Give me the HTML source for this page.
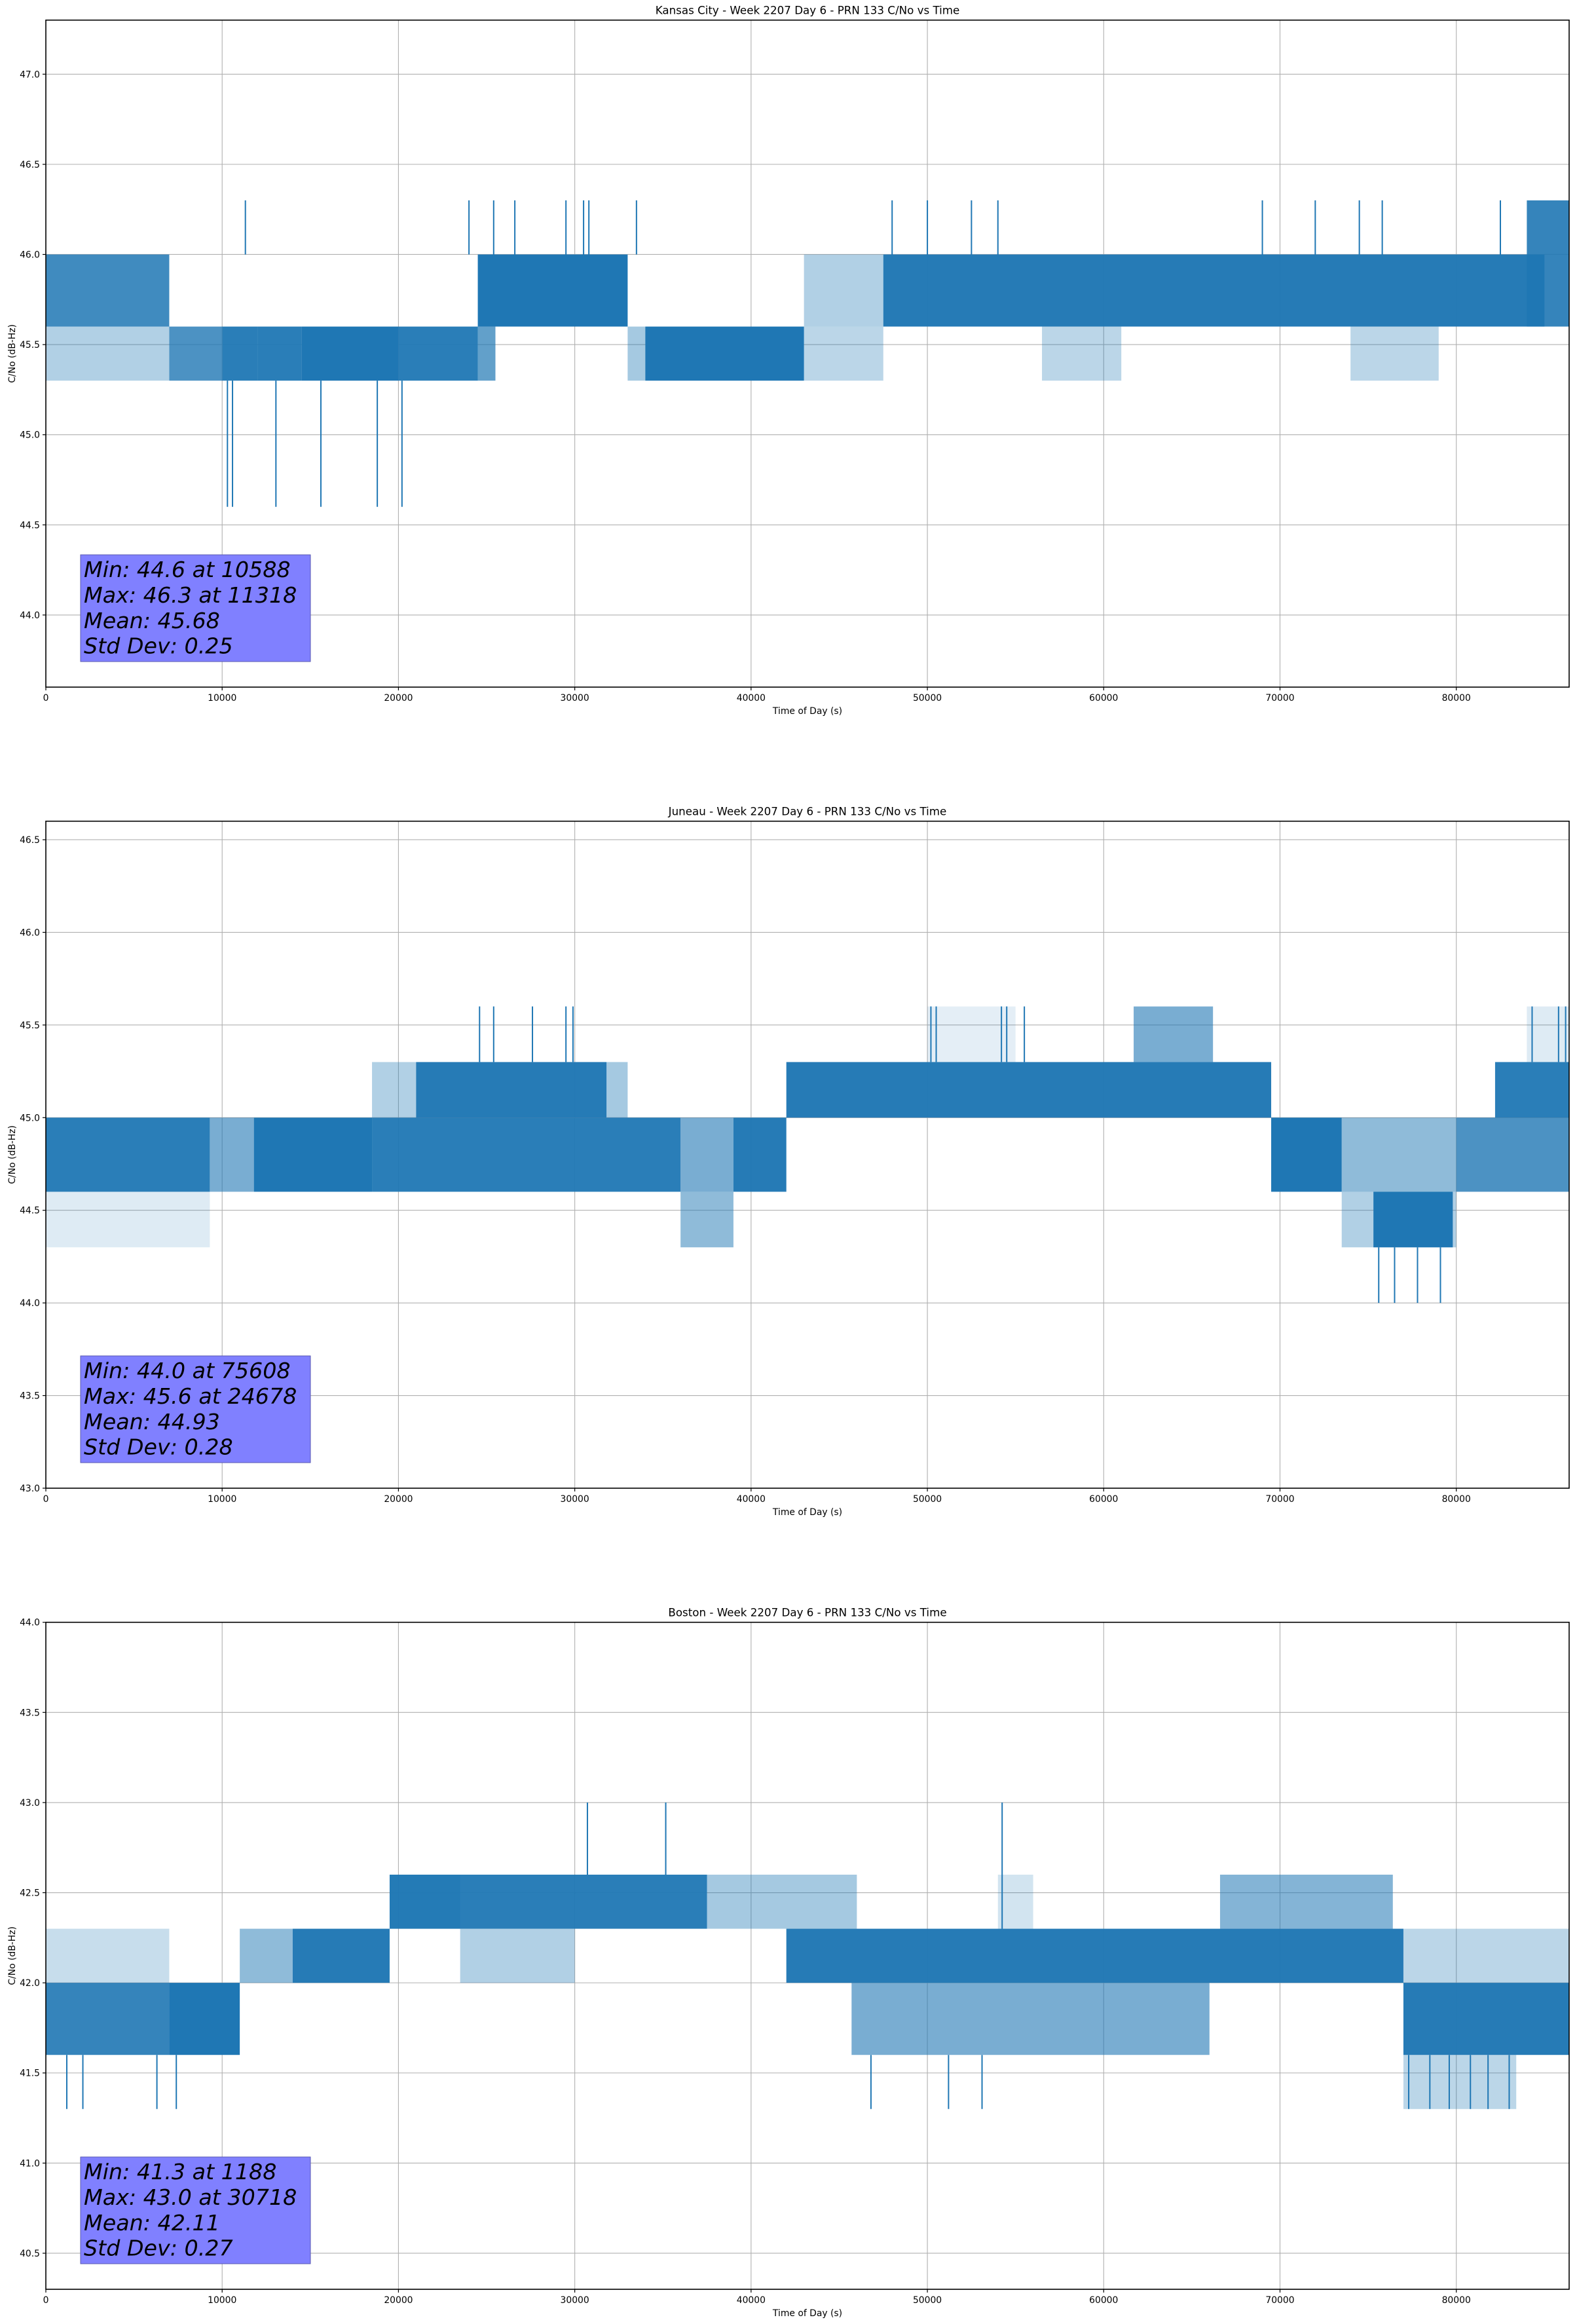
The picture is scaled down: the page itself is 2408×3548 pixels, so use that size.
<!DOCTYPE html>
<html><head><meta charset="utf-8"><style>
html,body{margin:0;padding:0;background:#fff}
svg{display:block;font-family:"DejaVu Sans","Liberation Sans",sans-serif}
</style></head><body>
<svg id="fig" width="2408" height="3548" viewBox="0 0 2408 3548" xmlns="http://www.w3.org/2000/svg"></svg>
<script>
// ---------- data (time in s, C/No in dB-Hz) ----------
const titles = ["Kansas City - Week 2207 Day 6 - PRN 133 C/No vs Time",
                "Juneau - Week 2207 Day 6 - PRN 133 C/No vs Time",
                "Boston - Week 2207 Day 6 - PRN 133 C/No vs Time"];
const yMins = [43.6, 43.0, 40.3];
const yMaxs = [47.3, 46.6, 44.0];
const yTicks1 = [44.0,44.5,45.0,45.5,46.0,46.5,47.0];
const yTicks2 = [43.0,43.5,44.0,44.5,45.0,45.5,46.0,46.5];
const yTicks3 = [40.5,41.0,41.5,42.0,42.5,43.0,43.5,44.0];
const xTicks = [0,10000,20000,30000,40000,50000,60000,70000,80000];
const xMax = 86400;
const statLines1 = ["Min: 44.6 at 10588","Max: 46.3 at 11318","Mean: 45.68","Std Dev: 0.25"];
const statLines2 = ["Min: 44.0 at 75608","Max: 45.6 at 24678","Mean: 44.93","Std Dev: 0.28"];
const statLines3 = ["Min: 41.3 at 1188","Max: 43.0 at 30718","Mean: 42.11","Std Dev: 0.27"];

// band blocks: start, end, low, high, density
const bandStart1 = [0,0,7000,10000,12000,14500,20000,24500,24500,33000,34000,43000,43000,47500,56500,74000,84000];
const bandEnd1   = [7000,7000,10000,12000,14500,20000,24500,33000,25500,34000,43000,47500,47500,85000,61000,79000,86400];
const bandLo1    = [45.6,45.3,45.3,45.3,45.3,45.3,45.3,45.6,45.3,45.3,45.3,45.6,45.3,45.6,45.3,45.3,45.6];
const bandHi1    = [46.0,45.6,45.6,45.6,45.6,45.6,45.6,46.0,45.6,45.6,45.6,46.0,45.6,46.0,45.6,45.6,46.3];
const bandDen1   = [0.85,0.35,0.8,0.95,0.95,1,0.95,1,0.7,0.4,1,0.35,0.3,0.97,0.3,0.3,0.9];

const bandStart2 = [0,0,9300,11800,18500,21000,18500,31800,36000,36000,39000,42000,50000,61700,69500,73500,73500,75300,80000,82200,84000];
const bandEnd2   = [9300,9300,11800,18500,36000,31800,21000,33000,39000,39000,42000,69500,55000,66200,73500,80000,80000,79800,86400,86400,86400];
const bandLo2    = [44.6,44.3,44.6,44.6,44.6,45.0,45.0,45.0,44.6,44.3,44.6,45.0,45.3,45.3,44.6,44.6,44.3,44.3,44.6,45.0,45.3];
const bandHi2    = [45.0,44.6,45.0,45.0,45.0,45.3,45.3,45.3,45.0,44.6,45.0,45.3,45.6,45.6,45.0,45.0,44.6,44.6,45.0,45.3,45.6];
const bandDen2   = [0.95,0.15,0.6,1,0.95,0.97,0.35,0.4,0.6,0.5,0.97,0.97,0.12,0.6,1,0.5,0.35,1,0.8,0.95,0.15];

const bandStart3 = [0,0,7000,11000,14000,19500,19500,23500,37500,42000,45700,54000,66600,77000,77000,77000];
const bandEnd3   = [7000,7000,11000,14000,19500,23500,37500,30000,46000,77000,66000,56000,76400,86400,83400,86400];
const bandLo3    = [41.6,42.0,41.6,42.0,42.0,42.3,42.3,42.0,42.3,42.0,41.6,42.3,42.3,41.6,41.3,42.0];
const bandHi3    = [42.0,42.3,42.0,42.3,42.3,42.6,42.6,42.3,42.6,42.3,42.0,42.6,42.6,42.0,41.6,42.3];
const bandDen3   = [0.9,0.25,1,0.5,0.97,0.5,0.95,0.35,0.4,0.97,0.6,0.2,0.55,0.97,0.3,0.3];

// individual spikes: time, low, high
const spikeT1  = [10300,10588,11318,13050,15600,18800,20200,24000,25400,26600,29500,30500,30800,33500,48000,50000,52500,54000,69000,72000,74500,75800,82500];
const spikeLo1 = [44.6,44.6,46.0,44.6,44.6,44.6,44.6,46.0,46.0,46.0,46.0,46.0,46.0,46.0,46.0,46.0,46.0,46.0,46.0,46.0,46.0,46.0,46.0];
const spikeHi1 = [45.3,45.3,46.3,45.3,45.3,45.3,45.3,46.3,46.3,46.3,46.3,46.3,46.3,46.3,46.3,46.3,46.3,46.3,46.3,46.3,46.3,46.3,46.3];

const spikeT2  = [24600,25400,27600,29500,29900,50200,50500,54200,54500,55500,75600,76500,77800,79100,84300,85800,86200];
const spikeLo2 = [45.3,45.3,45.3,45.3,45.3,45.3,45.3,45.3,45.3,45.3,44.0,44.0,44.0,44.0,45.3,45.3,45.3];
const spikeHi2 = [45.6,45.6,45.6,45.6,45.6,45.6,45.6,45.6,45.6,45.6,44.3,44.3,44.3,44.3,45.6,45.6,45.6];

const spikeT3  = [1188,2100,6300,7400,30718,35160,54240,46800,51200,53100,77300,78500,79600,80800,81800,83000];
const spikeLo3 = [41.3,41.3,41.3,41.3,42.6,42.6,42.3,41.3,41.3,41.3,41.3,41.3,41.3,41.3,41.3,41.3];
const spikeHi3 = [41.6,41.6,41.6,41.6,43.0,43.0,43.0,41.6,41.6,41.6,41.6,41.6,41.6,41.6,41.6,41.6];

// ---------- rendering ----------
const NS = "http://www.w3.org/2000/svg";
const svg = document.getElementById("fig");
const L = 70, R = 2396, H = 1018.3;
const tops = [30.7, 1253.7, 2476.7];
function mk(tag, attrs, parent) {
  const e = document.createElementNS(NS, tag);
  for (const k in attrs) e.setAttribute(k, attrs[k]);
  (parent || svg).appendChild(e);
  return e;
}
const panels = [
  {yt: yTicks1, bs: bandStart1, be: bandEnd1, bl: bandLo1, bh: bandHi1, bd: bandDen1, st: spikeT1, sl: spikeLo1, sh: spikeHi1, stats: statLines1},
  {yt: yTicks2, bs: bandStart2, be: bandEnd2, bl: bandLo2, bh: bandHi2, bd: bandDen2, st: spikeT2, sl: spikeLo2, sh: spikeHi2, stats: statLines2},
  {yt: yTicks3, bs: bandStart3, be: bandEnd3, bl: bandLo3, bh: bandHi3, bd: bandDen3, st: spikeT3, sl: spikeLo3, sh: spikeHi3, stats: statLines3}
];
panels.forEach((p, i) => {
  const top = tops[i], bot = top + H;
  const x = t => L + (t / xMax) * (R - L);
  const y = v => bot - (v - yMins[i]) / (yMaxs[i] - yMins[i]) * H;
  const g = mk("g", {});
  
  
  const cp = mk("clipPath", {id: "clip" + i}, g);
  mk("rect", {x: L, y: top, width: R - L, height: H}, cp);
  // grid
  xTicks.forEach(t => {
    const ln = mk("line", {x1: x(t), x2: x(t), y1: top, y2: bot, stroke: "#b0b0b0", "stroke-width": 1.1}, g);
    
    
  });
  p.yt.forEach(v => {
    const ln = mk("line", {x1: L, x2: R, y1: y(v), y2: y(v), stroke: "#b0b0b0", "stroke-width": 1.1}, g);
    
    
  });
  // series
  const sg = mk("g", {"clip-path": "url(#clip" + i + ")"}, g);
  
  
  p.bs.forEach((s, k) => {
    const r = mk("rect", {x: x(s), y: y(p.bh[k]), width: Math.max(1.5, x(p.be[k]) - x(s)), height: y(p.bl[k]) - y(p.bh[k]), fill: "#1f77b4", "fill-opacity": p.bd[k]}, sg);
    
    
  });
  p.st.forEach((t, k) => {
    const ln = mk("line", {x1: x(t), x2: x(t), y1: y(p.sl[k]), y2: y(p.sh[k]), stroke: "#1f77b4", "stroke-width": 2}, sg);
    
    
  });
  // frame
  const fr = mk("rect", {x: L, y: top, width: R - L, height: H, fill: "none", stroke: "#000", "stroke-width": 1.6}, g);
  
  
  // ticks
  xTicks.forEach(t => {
    mk("line", {x1: x(t), x2: x(t), y1: bot, y2: bot + 5, stroke: "#000", "stroke-width": 1.2}, g);
    const tx = mk("text", {x: x(t), y: bot + 21, "font-size": 13.9, "text-anchor": "middle", fill: "#000"}, g);
    tx.textContent = String(t);
    
    
  });
  p.yt.forEach(v => {
    mk("line", {x1: L - 5, x2: L, y1: y(v), y2: y(v), stroke: "#000", "stroke-width": 1.2}, g);
    const tx = mk("text", {x: L - 9, y: y(v) + 5, "font-size": 13.9, "text-anchor": "end", fill: "#000"}, g);
    tx.textContent = v.toFixed(1);
    
    
  });
  // title & labels
  const ti = mk("text", {x: (L + R) / 2, y: top - 9, "font-size": 16.7, "text-anchor": "middle", fill: "#000"}, g);
  ti.textContent = titles[i];
  
  
  const xl = mk("text", {x: (L + R) / 2, y: bot + 41, "font-size": 13.9, "text-anchor": "middle", fill: "#000"}, g);
  xl.textContent = "Time of Day (s)";
  
  
  const yc = top + H / 2;
  const yl = mk("text", {x: 18, y: yc, "font-size": 13.9, "text-anchor": "middle", fill: "#000", transform: "rotate(-90 18 " + yc + ")", dy: 5}, g);
  yl.textContent = "C/No (dB-Hz)";
  
  
  // stats box
  const bb = bot - 39, bt = bb - 163;
  const box = mk("rect", {x: 123, y: bt, width: 351, height: 163, fill: "#8080ff", stroke: "#5a5ab0", "stroke-width": 1}, g);
  
  
  p.stats.forEach((s, k) => {
    const tx = mk("text", {x: 128, y: bt + 34 + k * 38.9, "font-size": 33.3, "font-style": "italic", fill: "#000"}, g);
    tx.textContent = s;
    
    
  });
});
</script>
</body></html>
